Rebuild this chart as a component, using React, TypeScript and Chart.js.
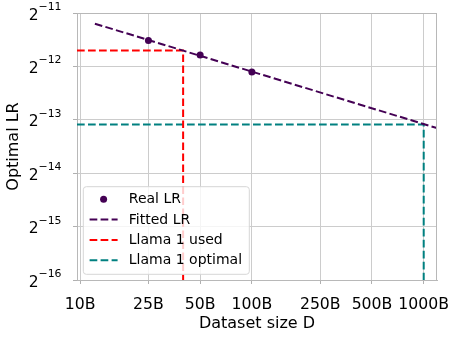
import React, { useEffect, useRef } from 'react';
import { Chart, registerables } from 'chart.js';

Chart.register(...registerables);

// ---- data ----
const xTickValues = [10, 25, 50, 100, 250, 500, 1000];
const xTickLabels = ['10B', '25B', '50B', '100B', '250B', '500B', '1000B'];
const yTickValues = [1.52587890625e-5, 3.0517578125e-5, 6.103515625e-5, 1.220703125e-4, 2.44140625e-4, 4.8828125e-4];
const yTickBase = '2';
const yTickExponents = ['−16', '−15', '−14', '−13', '−12', '−11'];
const xRange = [9.6, 1195];
const yRange = [1.52587890625e-5, 4.8828125e-4];

const realD = [25, 50, 100];
const realLR = [3.42e-4, 2.827e-4, 2.27e-4];
const fittedD = [12.2, 1195];
const fittedLR = [4.251e-4, 1.0956e-4];
const llamaUsedD = [9.6, 39.8, 39.8];
const llamaUsedLR = [3.0e-4, 3.0e-4, 1.52587890625e-5];
const llamaOptD = [9.6, 1000, 1000];
const llamaOptLR = [1.1485e-4, 1.1485e-4, 1.52587890625e-5];

const seriesLabels = ['Real LR', 'Fitted LR', 'Llama 1 used', 'Llama 1 optimal'];
const seriesColors = ['#440154', '#440154', '#ff0000', '#008080'];

const FONT = 'DejaVu Sans';
const DASH = [7.7, 3.3];

const zip = (xs: number[], ys: number[]) => xs.map((x, i) => ({ x, y: ys[i] }));

const framePlugin = {
  id: 'frameAndLegend',
  afterDatasetsDraw(chart: any) {
    const { ctx, chartArea: a } = chart;
    ctx.save();
    // top / right spines
    ctx.strokeStyle = '#b8b8b8';
    ctx.lineWidth = 1;
    ctx.setLineDash([]);
    ctx.beginPath();
    ctx.moveTo(a.left, a.top + 0.5);
    ctx.lineTo(a.right, a.top + 0.5);
    ctx.moveTo(a.right - 0.5, a.top);
    ctx.lineTo(a.right - 0.5, a.bottom);
    ctx.stroke();

    // y tick labels with superscript exponents
    const ys = chart.scales.y;
    ctx.fillStyle = '#000';
    ctx.textAlign = 'left';
    ctx.textBaseline = 'alphabetic';
    yTickValues.forEach((v, i) => {
      const py = ys.getPixelForValue(v);
      ctx.font = `15.5px "${FONT}"`;
      const wb = ctx.measureText(yTickBase).width;
      ctx.font = `10.9px "${FONT}"`;
      const we = ctx.measureText(yTickExponents[i]).width;
      const x0 = a.left - 15.5 - (wb + we);
      ctx.font = `15.5px "${FONT}"`;
      ctx.fillText(yTickBase, x0, py + 6.6);
      ctx.font = `10.9px "${FONT}"`;
      ctx.fillText(yTickExponents[i], x0 + wb, py - 3);
    });

    // legend box
    const bx = a.left + 6.3;
    const by = 186.7;
    const bw = 166;
    const bh = 87.6;
    const r = 3;
    ctx.beginPath();
    ctx.moveTo(bx + r, by);
    ctx.lineTo(bx + bw - r, by);
    ctx.quadraticCurveTo(bx + bw, by, bx + bw, by + r);
    ctx.lineTo(bx + bw, by + bh - r);
    ctx.quadraticCurveTo(bx + bw, by + bh, bx + bw - r, by + bh);
    ctx.lineTo(bx + r, by + bh);
    ctx.quadraticCurveTo(bx, by + bh, bx, by + bh - r);
    ctx.lineTo(bx, by + r);
    ctx.quadraticCurveTo(bx, by, bx + r, by);
    ctx.closePath();
    ctx.fillStyle = 'rgba(255,255,255,0.8)';
    ctx.fill();
    ctx.strokeStyle = '#d6d6d6';
    ctx.lineWidth = 1;
    ctx.stroke();

    const hx0 = bx + 6.3;
    const hLen = 28;
    const rowY = [199.3, 219.6, 239.9, 260.2];
    ctx.font = `14px "${FONT}"`;
    ctx.textBaseline = 'middle';
    ctx.textAlign = 'left';
    chart.data.datasets.forEach((ds: any, i: number) => {
      const y = rowY[i];
      if (i === 0) {
        ctx.fillStyle = ds.backgroundColor;
        ctx.beginPath();
        ctx.arc(hx0 + hLen / 2, y, 3.5, 0, Math.PI * 2);
        ctx.fill();
      } else {
        ctx.strokeStyle = ds.borderColor;
        ctx.lineWidth = 2;
        ctx.setLineDash(DASH);
        ctx.beginPath();
        ctx.moveTo(hx0, y);
        ctx.lineTo(hx0 + hLen, y);
        ctx.stroke();
        ctx.setLineDash([]);
      }
      ctx.fillStyle = '#000';
      ctx.fillText(ds.label, hx0 + hLen + 11.2, y + 0.5);
    });
    ctx.restore();
  },
};

export default function App() {
  const ref = useRef<HTMLCanvasElement>(null);
  useEffect(() => {
    document.body.style.margin = '0';
    const canvas = ref.current;
    if (!canvas) return;
    const lineDs = (i: number, xs: number[], ys: number[]) => ({
      type: 'line' as const,
      label: seriesLabels[i],
      data: zip(xs, ys),
      borderColor: seriesColors[i],
      backgroundColor: seriesColors[i],
      borderWidth: 2,
      borderDash: DASH,
      pointRadius: 0,
      fill: false,
      tension: 0,
      order: 2,
    });
    const chart = new Chart(canvas, {
      type: 'scatter',
      data: {
        datasets: [
          {
            type: 'scatter',
            label: seriesLabels[0],
            data: zip(realD, realLR),
            backgroundColor: seriesColors[0],
            borderColor: seriesColors[0],
            pointRadius: 3.5,
            borderWidth: 0,
            order: 0,
          },
          lineDs(1, fittedD, fittedLR),
          lineDs(2, llamaUsedD, llamaUsedLR),
          lineDs(3, llamaOptD, llamaOptLR),
        ] as any,
      },
      options: {
        responsive: false,
        animation: false,
        devicePixelRatio: 1,
        layout: { padding: { top: 13, right: 20, left: 0, bottom: 0 } },
        plugins: { legend: { display: false }, tooltip: { enabled: false } },
        scales: {
          x: {
            type: 'logarithmic',
            min: xRange[0],
            max: xRange[1],
            afterBuildTicks: (s: any) => {
              s.ticks = xTickValues.map((v) => ({ value: v }));
            },
            afterFit: (s: any) => {
              s.height = 59;
              s.paddingLeft = 0;
              s.paddingRight = 0;
            },
            ticks: {
              autoSkip: false,
              maxRotation: 0,
              color: '#000',
              padding: 12,
              font: { family: FONT, size: 15.7 },
              callback: (_v: any, i: number) => xTickLabels[i],
            },
            grid: { color: '#cccccc', lineWidth: 1, tickLength: 4, tickColor: '#b0b0b0' },
            border: { color: '#b8b8b8', width: 1 },
            title: {
              display: true,
              text: 'Dataset size D',
              color: '#000',
              font: { family: FONT, size: 16 },
              padding: { top: 0, bottom: 5.8 },
            },
          },
          y: {
            type: 'logarithmic',
            min: yRange[0],
            max: yRange[1],
            afterBuildTicks: (s: any) => {
              s.ticks = yTickValues.map((v) => ({ value: v }));
            },
            afterFit: (s: any) => {
              s.width = 77;
              s.paddingTop = 0;
              s.paddingBottom = 0;
            },
            ticks: {
              display: false,
              autoSkip: false,
            },
            grid: { color: '#cccccc', lineWidth: 1, tickLength: 4, tickColor: '#b0b0b0' },
            border: { color: '#b8b8b8', width: 1 },
            title: {
              display: true,
              text: 'Optimal LR',
              color: '#000',
              font: { family: FONT, size: 16 },
              padding: { top: 4, bottom: 0 },
            },
          },
        },
      } as any,
      plugins: [framePlugin],
    });
    return () => chart.destroy();
  }, []);
  return (
    <div style={{ width: 457, height: 339 }}>
      <canvas ref={ref} width={457} height={339} style={{ display: 'block' }} />
    </div>
  );
}
